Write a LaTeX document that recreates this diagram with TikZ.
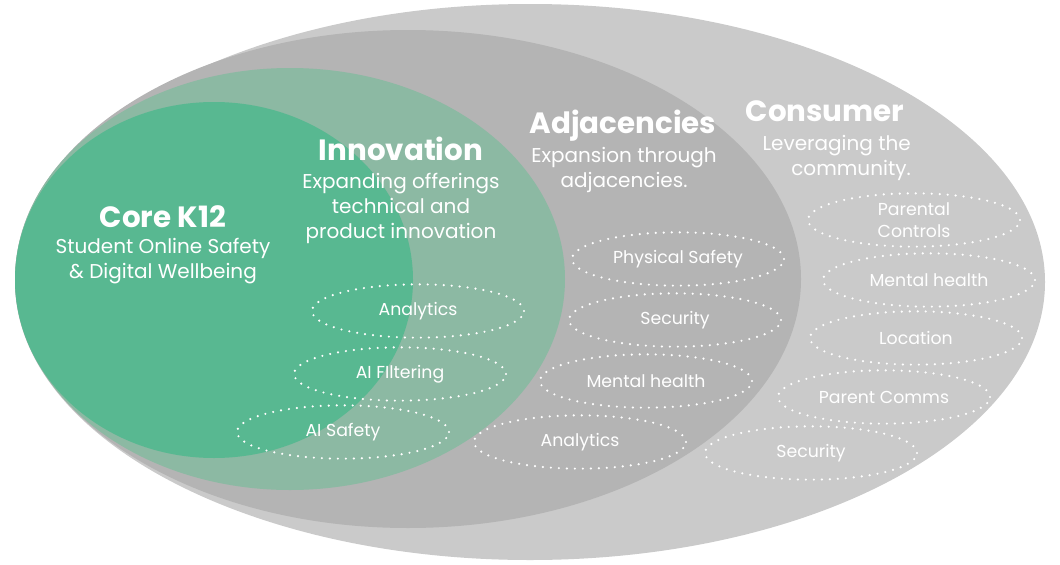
\documentclass[tikz,border=0pt]{standalone}
\usepackage{fontspec}
\setmainfont{Poppins}
\usetikzlibrary{shapes.geometric}
\definecolor{consumergray}{HTML}{CACACA}
\definecolor{adjgray}{HTML}{B4B4B4}
\definecolor{innogreen}{HTML}{8CB9A3}
\definecolor{coregreen}{HTML}{58B891}

\begin{document}
\begin{tikzpicture}[x=0.75pt, y=-0.75pt,
    title/.style={text=white, anchor=base, inner sep=0pt, font=\bfseries\fontsize{22}{26}\selectfont},
    blurb/.style={text=white, anchor=north, inner sep=0pt, align=center, font=\fontsize{15}{18.75}\selectfont},
    tag/.style={ellipse, draw=white, line width=1.8pt, dash pattern=on 0pt off 6pt, line cap=round,
        minimum width=159pt, minimum height=40pt, inner sep=0pt, text=white, align=center,
        font=\fontsize{13}{16.5}\selectfont}]
    \useasboundingbox (0,0) rectangle (1060,564);

    % rings, outer first
    \fill[consumergray] (530,282) ellipse [x radius=515, y radius=278];
    \fill[adjgray] (408,279) ellipse [x radius=393, y radius=249];
    \fill[innogreen] (290,279) ellipse [x radius=275, y radius=211];
    \fill[coregreen] (214,280) ellipse [x radius=199, y radius=178];

    % headings
    \node[title] (coreT) at (163,227) {Core K12};
    \node[blurb] (coreB) at (163,238) {Student Online Safety\\\& Digital Wellbeing};
    \node[title] (innoT) at (401,160) {Innovation};
    \node[blurb] (innoB) at (401,173) {Expanding offerings\\technical and\\product innovation};
    \node[title] (adjT) at (623,133) {Adjacencies};
    \node[blurb] (adjB) at (624,147) {Expansion through\\adjacencies.};
    \node[title] (consT) at (825,121) {Consumer};
    \node[blurb, anchor=north east, align=right] (consB) at (911,135) {Leveraging the\\community.};

    % innovation
    \node[tag] (analytics) at (418,311) {Analytics};
    \node[tag] (filtering) at (400,374) {AI FIltering};
    \node[tag] (aisafety) at (343,432) {AI Safety};

    % adjacencies
    \node[tag] (physical) at (678,259) {Physical Safety};
    \node[tag] (security) at (675,320) {Security};
    \node[tag] (mental) at (646,381) {Mental health};
    \node[tag] (analytics2) at (580,442) {Analytics};

    % consumer
    \node[tag] (parental) at (914,220) {Parental\\Controls};
    \node[tag] (mental2) at (929,280) {Mental health};
    \node[tag] (location) at (916,338) {Location};
    \node[tag] (comms) at (884,397) {Parent Comms};
    \node[tag] (security2) at (811,453) {Security};
\end{tikzpicture}
\end{document}
